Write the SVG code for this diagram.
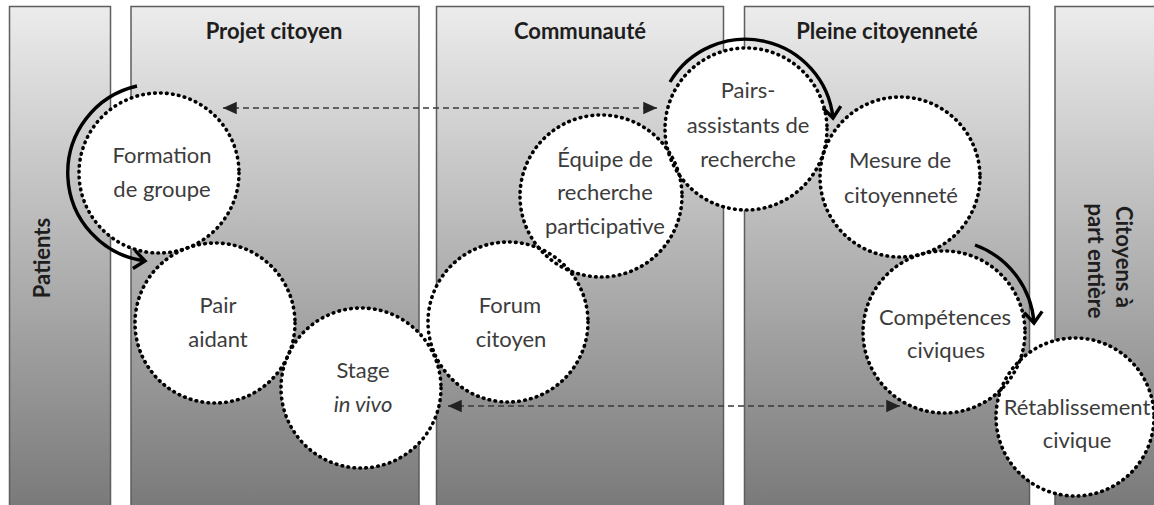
<svg xmlns="http://www.w3.org/2000/svg" width="1154" height="505" viewBox="0 0 1154 505">
<style>
.col{fill:url(#g);stroke:#5e5e5e;stroke-width:1.5}
.hd{font-family:Lato,"Liberation Sans",sans-serif;font-weight:bold;font-size:22px;fill:#1e1e1e;text-anchor:middle}
.lb{font-family:Lato,"Liberation Sans",sans-serif;font-size:22px;fill:#3c3c3c;text-anchor:middle}
.disk{fill:#fff}
.ring{fill:none;stroke:#000;stroke-width:3.6;stroke-linecap:round;stroke-dasharray:0.6 5.4}
.curve{fill:none;stroke:#000;stroke-width:3.4;marker-end:url(#chev)}
.dash{fill:none;stroke:#3a3a3a;stroke-width:1.6;stroke-dasharray:6 4;marker-start:url(#tri);marker-end:url(#tri)}
</style>
<defs>
<linearGradient id="g" gradientUnits="userSpaceOnUse" x1="0" y1="6" x2="0" y2="505">
<stop offset="0" stop-color="#ececec"/>
<stop offset="1" stop-color="#7a7a7a"/>
</linearGradient>
<marker id="chev" markerUnits="userSpaceOnUse" markerWidth="30" markerHeight="30" viewBox="-15 -15 30 30" refX="0" refY="0" orient="auto">
<path d="M-11,-9 L0,0 L-11,9" fill="none" stroke="#000" stroke-width="3.4" stroke-linejoin="miter"/>
</marker>
<marker id="tri" markerUnits="userSpaceOnUse" markerWidth="20" markerHeight="20" viewBox="-12 -8 14 16" refX="0" refY="0" orient="auto-start-reverse">
<path d="M-11,-5 L0,0 L-11,5 Z" fill="#222"/>
</marker>
</defs>
<rect width="1154" height="505" fill="#fff"/>
<g id="columns">
<g id="col-patients"><rect class="col" x="9.5" y="6.5" width="101" height="510"/>
<text class="hd" transform="translate(50,258) rotate(-90)">Patients</text></g>
<g id="col-projet"><rect class="col" x="131" y="6.5" width="288" height="510"/>
<text class="hd" x="274" y="39">Projet citoyen</text></g>
<g id="col-communaute"><rect class="col" x="436.5" y="6.5" width="287" height="510"/>
<text class="hd" x="580" y="39">Communauté</text></g>
<g id="col-pleine"><rect class="col" x="744.5" y="6.5" width="285" height="510"/>
<text class="hd" x="887" y="39">Pleine citoyenneté</text></g>
<g id="col-citoyens"><rect class="col" x="1055" y="6.5" width="120" height="510"/>
<text class="hd" transform="translate(1116,257) rotate(90)">Citoyens à</text>
<text class="hd" transform="translate(1088,261) rotate(90)">part entière</text></g>
</g>
<g id="disks">
<circle class="disk" cx="159" cy="173" r="80"/>
<circle class="disk" cx="215" cy="323" r="80"/>
<circle class="disk" cx="361" cy="388" r="80"/>
<circle class="disk" cx="508" cy="322" r="80"/>
<circle class="disk" cx="601" cy="196" r="81"/>
<circle class="disk" cx="746" cy="129" r="81"/>
<circle class="disk" cx="900" cy="177" r="80"/>
<circle class="disk" cx="944" cy="332" r="81"/>
<circle class="disk" cx="1075" cy="417" r="79"/>
</g>
<g id="n-formation"><circle class="ring" cx="159" cy="173" r="80"/>
<text class="lb" x="162" y="163">Formation</text><text class="lb" x="162" y="197">de groupe</text></g>
<g id="n-pair"><circle class="ring" cx="215" cy="323" r="80"/>
<text class="lb" x="218" y="313">Pair</text><text class="lb" x="218" y="347">aidant</text></g>
<g id="n-stage"><circle class="ring" cx="361" cy="388" r="80"/>
<text class="lb" x="363" y="378">Stage</text><text class="lb" x="363" y="412" font-style="italic">in vivo</text></g>
<g id="n-forum"><circle class="ring" cx="508" cy="322" r="80"/>
<text class="lb" x="510" y="313">Forum</text><text class="lb" x="511" y="347">citoyen</text></g>
<g id="n-equipe"><circle class="ring" cx="601" cy="196" r="81"/>
<text class="lb" x="605" y="167">Équipe de</text><text class="lb" x="605" y="200">recherche</text><text class="lb" x="605" y="234">participative</text></g>
<g id="n-pairs-assistants"><circle class="ring" cx="746" cy="129" r="81"/>
<text class="lb" x="748" y="98">Pairs-</text><text class="lb" x="748" y="133">assistants de</text><text class="lb" x="748" y="167">recherche</text></g>
<g id="n-mesure"><circle class="ring" cx="900" cy="177" r="80"/>
<text class="lb" x="900" y="168">Mesure de</text><text class="lb" x="901" y="203">citoyenneté</text></g>
<g id="n-competences"><circle class="ring" cx="944" cy="332" r="81"/>
<text class="lb" x="945" y="325">Compétences</text><text class="lb" x="946" y="358">civiques</text></g>
<g id="n-retablissement"><circle class="ring" cx="1075" cy="417" r="79"/>
<text class="lb" x="1077" y="415">Rétablissement</text><text class="lb" x="1077" y="448">civique</text></g>
<g id="connectors">
<path class="curve" d="M137,86 A89,89 0 0,0 145,261"/>
<path class="curve" d="M670,82 A88,88 0 0,1 833,118"/>
<path class="curve" d="M975,245 A90,90 0 0,1 1034,323"/>
<path class="dash" d="M223,108 L657,108"/>
<path class="dash" d="M448,406 L900,406"/>
</g>
</svg>
